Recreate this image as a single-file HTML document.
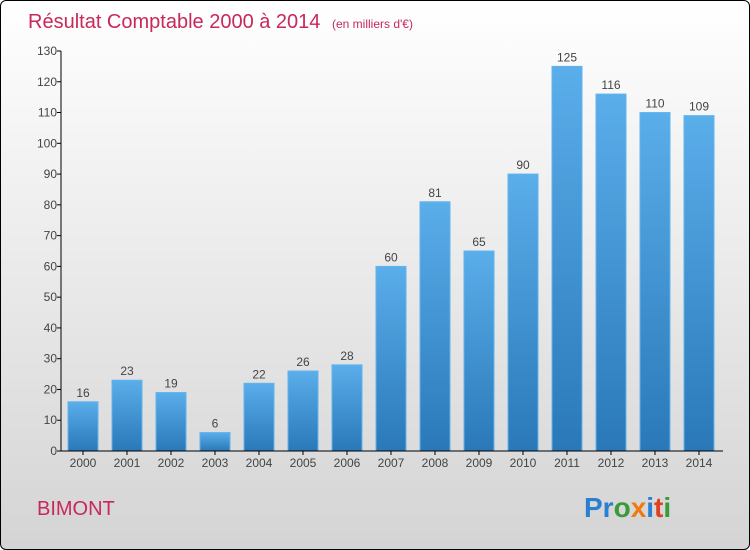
<!DOCTYPE html>
<html><head><meta charset="utf-8"><style>
html,body{margin:0;padding:0;}
body{width:750px;height:550px;overflow:hidden;font-family:"Liberation Sans",sans-serif;}
#frame{position:absolute;left:0;top:0;width:748px;height:548px;border:1px solid #000;border-radius:6px;background:linear-gradient(#ffffff,#d4d4d4);overflow:hidden;}
</style></head><body>
<div id="frame">
<svg id="chart" width="750" height="550">
<defs>
<linearGradient id="bg" x1="0" y1="0" x2="0" y2="1">
<stop offset="0" stop-color="#5aaeea"/><stop offset="1" stop-color="#2a78b8"/>
</linearGradient>
</defs>
<text x="27" y="27" font-size="20" fill="#c8285a">Résultat Comptable 2000 à 2014 <tspan font-size="12" dx="6">(en milliers d'€)</tspan></text>
<g id="yaxis"></g>
<g id="bars"></g>
<g id="xaxis"></g>
<text x="36" y="514" font-size="20" fill="#c8285a">BIMONT</text>
<text x="583" y="516" font-size="28" font-weight="bold"><tspan fill="#2a7fd0">Pr</tspan><tspan fill="#3a9a3a">o</tspan><tspan fill="#f07a10">x</tspan><tspan fill="#2a7fd0">i</tspan><tspan fill="#e04020">t</tspan><tspan fill="#3a9a3a">i</tspan></text>
</svg>
</div>
<script>
const categories=["2000","2001","2002","2003","2004","2005","2006","2007","2008","2009","2010","2011","2012","2013","2014"];
const values=[16,23,19,6,22,26,28,60,81,65,90,125,116,110,109];
const yTicks=[0,10,20,30,40,50,60,70,80,90,100,110,120,130];
const NS="http://www.w3.org/2000/svg";
const y0=450,yTop=50,yMax=130,axisX=60,firstX=67,step=44,bw=30;
const y=v=>y0-(v/yMax)*(y0-yTop);
const x=i=>firstX+i*step;
function mk(tag,attrs,parent){const e=document.createElementNS(NS,tag);for(const k in attrs)e.setAttribute(k,attrs[k]);parent.appendChild(e);return e;}
const ya=document.getElementById('yaxis'),bg=document.getElementById('bars'),xa=document.getElementById('xaxis');
yTicks.forEach(t=>{
  const l=mk('line',{x1:axisX-4,x2:axisX,y1:y(t),y2:y(t),stroke:'#000'},ya);
  
  
  const tx=mk('text',{x:axisX-4,y:y(t)+4,'text-anchor':'end','font-size':'12',fill:'#444'},ya);
  tx.textContent=t;
  
  
});
const al=mk('line',{x1:axisX,x2:axisX,y1:yTop,y2:y0,stroke:'#000'},ya);


values.forEach((v,i)=>{
  const r=mk('rect',{x:x(i),y:y(v),width:bw,height:y0-y(v),fill:'url(#bg)',stroke:'#62b4ee','stroke-width':'1'},bg);
  
  
  const t=mk('text',{x:x(i)+bw/2,y:y(v)-5,'text-anchor':'middle','font-size':'12',fill:'#444'},bg);
  t.textContent=v;
  
  
  const c=mk('text',{x:x(i)+bw/2,y:466,'text-anchor':'middle','font-size':'12',fill:'#444'},xa);
  c.textContent=categories[i];
  
  
  const tk=mk('line',{x1:x(i)+bw/2,x2:x(i)+bw/2,y1:y0,y2:y0+4,stroke:'#000'},xa);
  
  
});
const xl=mk('line',{x1:axisX,x2:722,y1:y0,y2:y0,stroke:'#000'},xa);


</script>
</body></html>
